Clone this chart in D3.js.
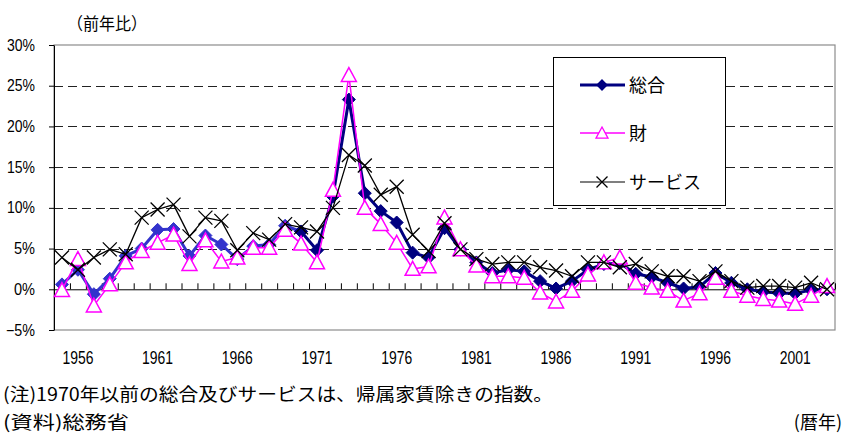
<!DOCTYPE html>
<html>
<head>
<meta charset="utf-8">
<script src="https://cdnjs.cloudflare.com/ajax/libs/d3/7.8.5/d3.min.js"></script>
<style>
body { margin: 0; background: #fff; }
text { font-family: "Liberation Sans", Arial, sans-serif; fill: #000; }
.jp { font-family: "Noto Sans CJK JP", sans-serif; }
</style>
</head>
<body>
<svg id="chart" width="844" height="435"></svg>
<script>
// categories (as labelled on the axis)
var years = [1955,1956,1957,1958,1959,1960,1961,1962,1963,1964,
             1965,1966,1967,1968,1969,1970,1971,1972,1973,1974,
             1975,1976,1977,1978,1979,1980,1981,1982,1983,1984,
             1985,1986,1987,1988,1989,1990,1991,1992,1993,1994,
             1995,1996,1997,1998,1999,2000,2001,2002,2003];
var yearLabels = [1956,1961,1966,1971,1976,1981,1986,1991,1996,2001];
var yTicks = [-5,0,5,10,15,20,25,30];

// 総合 (前年比 %)
var sogo = [0.6,2.4,-0.6,1.3,4.1,5.0,7.3,7.4,4.1,6.6,
            5.5,3.7,5.3,5.5,7.8,7.1,4.8,11.4,23.3,11.8,
            9.6,8.2,4.5,3.9,7.5,4.9,3.3,2.0,2.4,2.2,
            1.0,0.1,1.0,2.4,3.1,3.2,1.9,1.5,0.8,0.1,
            0.3,2.0,0.8,0.0,-0.3,-0.5,-0.5,-0.1,0.0];
// 財
var zai = [-0.1,3.7,-2.0,0.6,3.3,4.7,5.7,6.7,3.1,6.0,
           3.4,3.9,5.1,5.1,7.3,5.6,3.3,12.2,26.3,10.0,
           8.0,5.7,2.5,2.8,8.8,4.9,2.9,1.6,1.6,1.4,
           -0.4,-1.5,-0.2,1.8,3.3,3.9,0.8,0.2,-0.2,-1.4,
           -0.5,1.4,-0.2,-0.8,-1.2,-1.4,-1.8,-0.8,0.4];
// サービス
var service = [3.9,2.4,3.9,4.9,4.3,8.8,9.8,10.4,6.5,8.8,
               8.4,4.8,6.9,6.1,8.0,7.6,7.1,10.0,16.5,15.2,
               11.6,12.6,6.7,4.7,8.1,4.9,3.7,3.1,3.3,3.3,
               2.7,2.3,1.6,3.3,3.3,2.7,3.1,2.2,1.6,1.6,
               1.0,2.2,1.0,0.2,0.4,0.4,0.2,0.8,0.0];
var oldEnd = 1970; // 1970年以前は帰属家賃除き

var svg = d3.select("#chart");
var pLeft = 54, pRight = 835, pTop = 45, pBottom = 330;

var x = d3.scaleBand().domain(years).range([pLeft, pRight]).padding(0);
var bw = x.bandwidth();
var cx = function(d) { return x(d) + bw / 2; };
var y = d3.scaleLinear().domain([-5, 30]).range([pBottom, pTop]);

// plot frame
svg.append("rect")
    .attr("x", pLeft).attr("y", pTop)
    .attr("width", pRight - pLeft).attr("height", pBottom - pTop)
    .attr("fill", "none").attr("stroke", "#8c8c8c").attr("stroke-width", 1.2);

// dashed gridlines
svg.append("g").selectAll("line")
  .data(yTicks.filter(function(d) { return d > 0 && d < 30; }))
  .enter().append("line")
    .attr("x1", pLeft).attr("x2", pRight)
    .attr("y1", function(d) { return Math.round(y(d)) + 0.5; })
    .attr("y2", function(d) { return Math.round(y(d)) + 0.5; })
    .attr("stroke", "#222").attr("stroke-dasharray", "9,5");

// y axis
var yAxis = svg.append("g")
    .attr("transform", "translate(" + pLeft + ",0)")
    .call(d3.axisLeft(y).tickValues(yTicks).tickSize(5).tickSizeOuter(0).tickPadding(14)
      .tickFormat(function(d) { return (d < 0 ? "\u2212" + (-d) : d) + "%"; }));
yAxis.select(".domain").attr("stroke", "#000");
yAxis.selectAll("text").attr("font-size", 16).attr("font-family", "Liberation Sans")
    .attr("textLength", function(d) { return d < 0 ? 29 : (d < 10 ? 21 : 28); })
    .attr("lengthAdjust", "spacingAndGlyphs");

// x axis at 0 with category ticks pointing up
var edge = d3.scaleLinear().domain([0, years.length]).range([pLeft, pRight]);
var xAxis = svg.append("g")
    .attr("transform", "translate(0," + y(0) + ")")
    .call(d3.axisBottom(edge).tickValues(d3.range(0, years.length + 1))
      .tickSize(-6).tickSizeOuter(0).tickFormat(""));
xAxis.select(".domain").attr("stroke", "#000");

// x labels
svg.append("g").selectAll("text")
  .data(yearLabels)
  .enter().append("text")
    .attr("x", function(d) { return cx(d); })
    .attr("y", 364)
    .attr("text-anchor", "middle")
    .attr("font-size", 18)
    .attr("textLength", 31)
    .attr("lengthAdjust", "spacingAndGlyphs")
    .text(function(d) { return d; });

// series
function pts(vals, from, to) {
  var out = [];
  for (var i = 0; i < years.length; i++) {
    if (years[i] >= from && years[i] <= to) out.push({year: years[i], v: vals[i]});
  }
  return out;
}
var line = d3.line().x(function(d) { return cx(d.year); }).y(function(d) { return y(d.v); });

var diamond = function(r) { return "M0," + (-r) + "L" + r + ",0L0," + r + "L" + (-r) + ",0Z"; };
var tri = function(r) { return "M0," + (-r) + "L" + r + "," + (r * 0.85) + "L" + (-r) + "," + (r * 0.85) + "Z"; };
var cross = function(r) { return "M" + (-r) + "," + (-r) + "L" + r + "," + r + "M" + r + "," + (-r) + "L" + (-r) + "," + r; };

function drawSeries(data, color, width, markerPath, fill, mstroke) {
  var g = svg.append("g");
  g.append("path").datum(data)
      .attr("d", line).attr("fill", "none")
      .attr("stroke", color).attr("stroke-width", width)
      .attr("stroke-linejoin", "round");
  g.selectAll(".m").data(data).enter().append("path")
      .attr("class", "m")
      .attr("transform", function(d) { return "translate(" + cx(d.year) + "," + y(d.v) + ")"; })
      .attr("d", markerPath)
      .attr("fill", fill).attr("stroke", color).attr("stroke-width", mstroke);
}

drawSeries(pts(sogo, 1955, oldEnd), "#3333cc", 3, diamond(6.5), "#3333cc", 1);
drawSeries(pts(sogo, oldEnd, 2003), "#000080", 3, diamond(6.5), "#000080", 1);
drawSeries(pts(zai, 1955, 2003), "#ff00ff", 1.5, tri(7.5), "#fff", 1.5);
drawSeries(pts(service, 1955, 2003), "#000", 1.3, cross(7), "none", 1.3);

// legend
var lg = svg.append("g");
lg.append("rect").attr("x", 553.5).attr("y", 57.5).attr("width", 172).attr("height", 148)
    .attr("fill", "#fff").attr("stroke", "#000").attr("stroke-width", 1);
var legendItems = [
  {name: "総合", color: "#000080", w: 3, m: diamond(5), fill: "#000080", ly: 85},
  {name: "財", color: "#ff00ff", w: 1.5, m: tri(6), fill: "#fff", ly: 133},
  {name: "サービス", color: "#000", w: 1.2, m: cross(5.5), fill: "none", ly: 182}
];
legendItems.forEach(function(it) {
  lg.append("line").attr("x1", 580).attr("x2", 625).attr("y1", it.ly).attr("y2", it.ly)
    .attr("stroke", it.color).attr("stroke-width", it.w);
  lg.append("path").attr("transform", "translate(602," + it.ly + ")").attr("d", it.m)
    .attr("fill", it.fill).attr("stroke", it.color).attr("stroke-width", 1.3);
  lg.append("text").attr("class", "jp").attr("x", 629).attr("y", it.ly + 6.5)
    .attr("font-size", 18).text(it.name);
});

// texts
svg.append("text").attr("class", "jp").attr("x", 67).attr("y", 30).attr("font-size", 17)
    .attr("textLength", 80).attr("lengthAdjust", "spacingAndGlyphs").text("（前年比）");
svg.append("text").attr("class", "jp").attr("x", 3).attr("y", 401).attr("font-size", 18)
    .attr("textLength", 550).attr("lengthAdjust", "spacingAndGlyphs")
    .text("(注)1970年以前の総合及びサービスは、帰属家賃除きの指数。");
svg.append("text").attr("class", "jp").attr("x", 3).attr("y", 429).attr("font-size", 18)
    .attr("textLength", 126).attr("lengthAdjust", "spacingAndGlyphs")
    .text("(資料)総務省");
svg.append("text").attr("class", "jp").attr("x", 842).attr("y", 429).attr("font-size", 18)
    .attr("text-anchor", "end").text("(暦年)");
</script>
</body>
</html>
